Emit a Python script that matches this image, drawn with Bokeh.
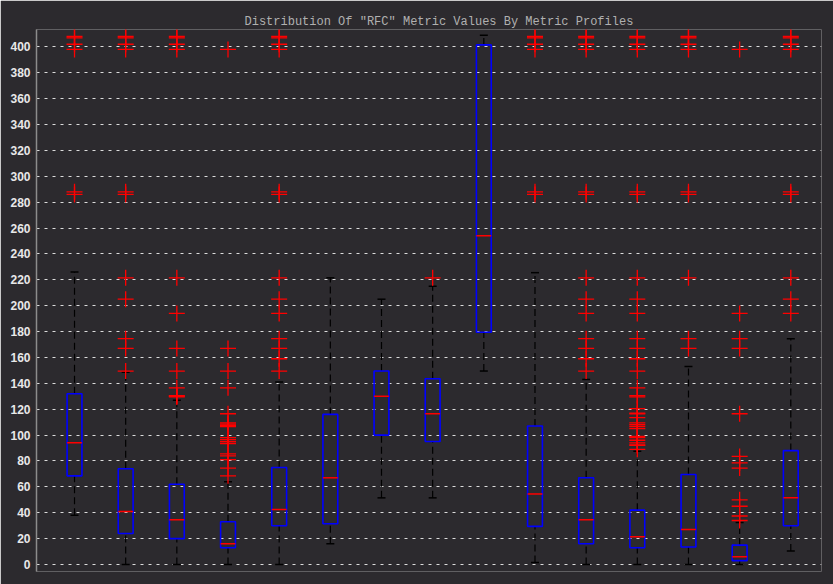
from bokeh.plotting import figure
from bokeh.models import ColumnDataSource, FixedTicker, Range1d
from bokeh.transform import dodge
from bokeh.embed import file_html
from bokeh.resources import INLINE

# ---- data ----
profiles = list(range(1, 16))
q1 = [68.5, 24, 20, 13, 30, 31.5, 100, 95, 179.5, 29.5, 16, 13, 13.5, 3, 30]
median = [94, 41, 34.5, 16, 42.5, 67, 130, 116.5, 254, 54.5, 34.5, 21.5, 27, 6, 51.5]
q3 = [132, 74, 62, 33, 75, 116, 149.5, 143.5, 401.5, 107, 67, 42, 69.5, 15, 88]
whisker_low = [38, 0, 0, 0, 0, 16, 51.5, 51.5, 149.5, 1.5, 0, 0, 0, 0, 10.5]
whisker_high = [226, 148.5, 127, 64, 141, 221.5, 205, 215, 409, 225.5, 143, 87.5, 153, 32.5, 174.5]

top_group = [286, 288, 398, 402, 407, 408]
outliers = {
    1: [286, 288, 398, 402, 407, 408],
    2: [149.5, 167, 174.5, 205, 221.5] + top_group,
    3: [129.5, 130, 130.5, 136.5, 149.5, 167, 194, 221.5, 398, 402, 407, 408],
    4: [68.5, 74.5, 81, 84, 85.5, 93.5, 95, 96.5, 98, 106.5, 107.5, 108.5, 109.5,
        116.5, 136.5, 149.5, 167, 398],
    5: [149.5, 159, 167, 174.5, 194, 205, 221.5] + top_group,
    6: [],
    7: [],
    8: [221.5],
    9: [],
    10: top_group,
    11: [149.5, 159, 167, 174.5, 194, 205, 221.5] + top_group,
    12: [89, 92, 92.5, 94, 96, 98, 99, 105, 106.5, 108, 109.5, 113.5, 116.5, 117,
         120.5, 129.5, 130.5, 136.5, 149.5, 159, 167, 174.5, 194, 205, 221.5] + top_group,
    13: [167, 174.5, 221.5] + top_group,
    14: [34, 37.5, 45, 50, 74.5, 78.5, 83.5, 116.5, 167, 174.5, 194, 398],
    15: [194, 205, 221.5] + top_group,
}
y_ticks = list(range(0, 401, 20))
title_text = 'Distribution Of "RFC" Metric Values By Metric Profiles'

BG = "#2c2a2e"

src = ColumnDataSource(dict(x=profiles, q1=q1, med=median, q3=q3,
                            lo=whisker_low, hi=whisker_high))
ox, oy = [], []
for k, vals in outliers.items():
    for v in vals:
        ox.append(k)
        oy.append(v)
osrc = ColumnDataSource(dict(x=ox, y=oy))

p = figure(width=833, height=584, output_backend="svg", toolbar_location=None,
           x_range=Range1d(0.257, 15.6), y_range=Range1d(-5.4, 413.4),
           min_border_left=36, min_border_right=12, min_border_top=29,
           min_border_bottom=13)

p.background_fill_color = BG
p.border_fill_color = BG
p.outline_line_color = None

p.title.text = title_text
p.title.text_font = "Liberation Mono"
p.title.text_font_size = "12px"
p.title.text_font_style = "normal"
p.title.text_color = "#b0b0b0"
p.title.align = "left"
p.title.offset = 208
p.title.standoff = 2

p.xaxis.visible = False
p.xgrid.visible = False

ya = p.yaxis[0]
ya.ticker = FixedTicker(ticks=y_ticks)
ya.major_tick_out = 0
ya.major_tick_in = 0
ya.minor_tick_out = 0
ya.minor_tick_in = 0
ya.major_label_standoff = 6
ya.axis_line_color = "#8c8c8c"
ya.axis_line_width = 1.5
ya.major_label_text_font = "Liberation Sans"
ya.major_label_text_font_style = "bold"
ya.major_label_text_font_size = "12px"
ya.major_label_text_color = "#e8e8e8"

p.ygrid.grid_line_color = "#dcdcdc"
p.ygrid.grid_line_dash = "3 5"
p.ygrid.grid_line_width = 1

# whiskers
p.segment(x0="x", x1="x", y0="q3", y1="hi", source=src, line_color="black",
          line_width=1.2, line_dash="7 4")
p.segment(x0="x", x1="x", y0="lo", y1="q1", source=src, line_color="black",
          line_width=1.2, line_dash="7 4")
# caps
p.scatter(x="x", y="hi", source=src, marker="dash", size=8, line_color="black",
          line_width=1.5)
p.scatter(x="x", y="lo", source=src, marker="dash", size=8, line_color="black",
          line_width=1.5)
# boxes
p.vbar(x="x", width=0.29, bottom="q1", top="q3", source=src, fill_alpha=0,
       line_color="#0000ff", line_width=1.6)
# medians
p.segment(x0=dodge("x", -0.145), x1=dodge("x", 0.145), y0="med", y1="med",
          source=src, line_color="#ff0000", line_width=1.5)
# outliers
p.scatter(x="x", y="y", source=osrc, marker="cross", size=16,
          line_color="#ff0000", line_width=1.3)

open("out.html", "w").write(file_html(p, INLINE))
